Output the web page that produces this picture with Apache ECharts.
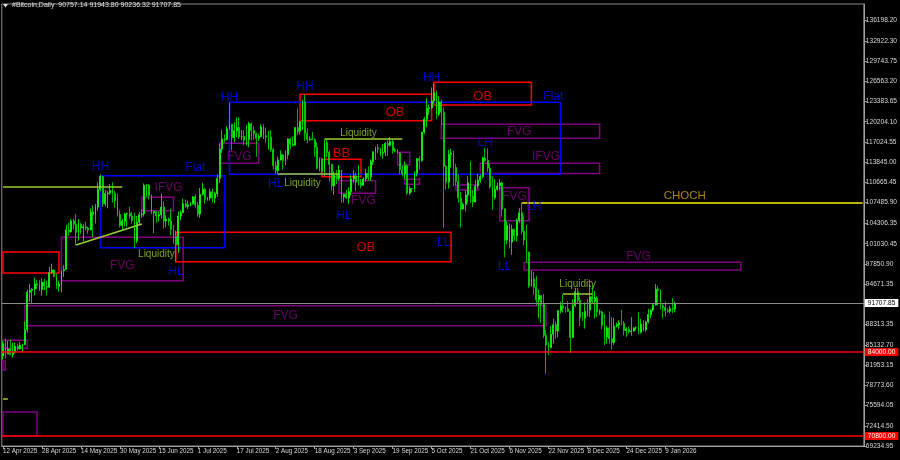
<!DOCTYPE html>
<html><head><meta charset="utf-8">
<script src="https://cdn.jsdelivr.net/npm/echarts@6/dist/echarts.min.js"></script>
<style>html,body{margin:0;padding:0;background:#000;}#c{width:900px;height:460px;}</style>
</head><body><div id="c"></div>
<script>
// ---------- DATA ----------
const symbolTitle = '#Bitcoin,Daily';
const lastBar = { open: 90757.14, high: 91943.80, low: 90236.32, close: 91707.85 };
const firstDate = '2025-04-12';
const slotCount = 354; // daily slots on the time axis (data + empty right margin)

// daily OHLC, 12 Apr 2025 .. 13 Jan 2026
const opens = [
83400,85300,83700,84500,83600,84000,84900,84500,85100,85200,87500,93400,93700,93900,94700,94600,93800,95000,94300,
94200,96500,96900,95900,94300,94700,96800,97000,103200,102900,104600,104100,102800,104100,103500,103700,103500,103200,106000,105600,106800,109600,111600,107300,108900,109000,109400,108900,107800,105600,103900,
104600,105700,105800,105400,104700,101500,104400,105600,105700,110200,110200,108600,105900,106100,105400,105600,106800,104600,104900,104600,103300,102100,100900,105400,105900,107300,106900,107100,107300,108400,
107100,105700,108800,109600,108000,108200,109200,108200,108900,111300,115900,117500,117400,119100,119800,117700,118800,119300,117900,117900,117300,117400,119900,118800,118300,117600,117900,119400,118000,117800,117800,
115800,113300,112500,114200,115000,114100,115000,117500,116700,116500,119300,118700,120200,123300,118400,117400,117500,117400,116200,112900,114300,112400,116900,115400,113500,110100,111800,111300,112600,108400,108800,
108200,109200,111200,111700,110700,110700,110200,111200,112100,111500,113900,115500,116100,115900,115300,115400,116800,116500,117100,115700,115700,115300,112700,112000,113300,109000,109700,109700,112100,114400,
114100,118600,120600,122300,122400,123500,124800,121400,123300,121700,113200,110700,115100,115300,113000,110800,108200,106500,107200,108700,110600,108500,107600,110100,111000,111600,114500,114100,112900,110000,108300,
109600,110100,110600,106500,101600,103900,101300,103300,102300,104700,105900,103000,101600,99700,94400,95500,94200,92200,92900,91500,86600,85100,84700,86800,88300,87300,90500,91300,90900,90800,
90400,86300,91300,93500,92100,89400,89300,90400,90600,92700,92000,92500,90300,90300,88200,86400,87800,86100,85500,88100,88300,88600,88500,87400,87600,87200,87300,87800,87800,87100,88400,
87500,88700,89900,90600,91400,93900,93700,91300,91000,90500,90400,90800,90757.14
];
const closes = [
85300,83700,84500,83600,84000,84900,84500,85100,85200,87500,93400,93700,93900,94700,94600,93800,95000,94300,94200,
96500,96900,95900,94300,94700,96800,97000,103200,102900,104600,104100,102800,104100,103500,103700,103500,103200,106000,105600,106800,109600,111600,107300,108900,109000,109400,108900,107800,105600,103900,104600,
105700,105800,105400,104700,101500,104400,105600,105700,110200,110200,108600,105900,106100,105400,105600,106800,104600,104900,104600,103300,102100,100900,105400,105900,107300,106900,107100,107300,108400,107100,
105700,108800,109600,108000,108200,109200,108200,108900,111300,115900,117500,117400,119100,119800,117700,118800,119300,117900,117900,117300,117400,119900,118800,118300,117600,117900,119400,118000,117800,117800,115800,
113300,112500,114200,115000,114100,115000,117500,116700,116500,119300,118700,120200,123300,118400,117400,117500,117400,116200,112900,114300,112400,116900,115400,113500,110100,111800,111300,112600,108400,108800,108200,
109200,111200,111700,110700,110700,110200,111200,112100,111500,113900,115500,116100,115900,115300,115400,116800,116500,117100,115700,115700,115300,112700,112000,113300,109000,109700,109700,112100,114400,114100,
118600,120600,122300,122400,123500,124800,121400,123300,121700,113200,110700,115100,115300,113000,110800,108200,106500,107200,108700,110600,108500,107600,110100,111000,111600,114500,114100,112900,110000,108300,109600,
110100,110600,106500,101600,103900,101300,103300,102300,104700,105900,103000,101600,99700,94400,95500,94200,92200,92900,91500,86600,85100,84700,86800,88300,87300,90500,91300,90900,90800,90400,
86300,91300,93500,92100,89400,89300,90400,90600,92700,92000,92500,90300,90300,88200,86400,87800,86100,85500,88100,88300,88600,88500,87400,87600,87200,87300,87800,87800,87100,88400,87500,
88700,89900,90600,91400,93900,93700,91300,91000,90500,90400,90800,90757.14,91707.85
];
const lows = [
82800,83000,83700,83600,83100,83800,84300,84400,83900,85100,87100,91900,91700,92900,93900,93600,92900,93700,92900,
94100,96300,95800,93900,93500,93400,95800,96900,102300,102800,103300,100800,101500,102600,101400,103100,102600,103100,102000,104200,106200,109300,106800,106900,106600,108700,107500,106700,105300,103600,103100,
103800,103700,105000,104200,100400,101100,103900,105100,105300,108400,108000,105700,102700,104300,104500,105000,103400,103600,103900,102400,101000,98200,99600,104700,105900,106700,106500,106900,107200,106700,
105300,105100,108600,107300,107800,107800,107500,107400,108400,110600,115300,116900,117300,118900,115700,117000,117800,117500,117300,116500,116500,116200,117300,117400,114700,117200,117800,117500,116900,115800,115500,
112700,112000,112000,114100,112700,113400,114300,115900,116300,116500,118100,118200,118900,117200,116800,117200,117300,114700,112700,112400,112000,111700,114600,110800,109400,108700,110400,110900,107500,107500,108100,
107300,108600,110600,109300,110200,109700,110200,110800,110900,110900,113400,114200,115300,114800,114400,114800,114800,116300,115200,115400,115200,112000,111600,111100,108700,108700,109100,109200,111600,112700,
113900,118300,119300,121300,122200,123100,120600,121100,119700,103500,109600,109700,113000,110100,110200,107500,103600,106400,106100,107500,107400,106800,107500,109700,110600,111300,113900,112300,109700,106300,108000,
109400,109500,105300,98900,100900,100300,99300,101500,101400,104300,102500,100800,98000,94100,94300,93000,91300,89300,88600,86200,80600,83500,84600,85300,86100,86300,90100,90200,90200,90300,
83800,86200,91100,91700,88100,88900,87700,89600,89500,91600,89300,89500,89800,87600,85100,85300,85300,84400,85100,87900,87600,88200,86600,86400,86900,86600,87200,87400,86800,86900,87300,
87200,88500,89300,90400,91300,91300,90700,89300,89600,90200,90100,90100,90236.32
];
const highs = [
85800,86100,85800,86000,85500,85500,85300,85600,85300,88800,93800,94700,94000,95700,95300,95300,95600,95500,95200,
97400,97900,97000,96300,95200,96900,97700,104000,104300,104900,105000,105700,104900,104300,104100,104500,103700,106600,107100,107300,110700,111900,111700,109500,109300,110400,110700,109300,108900,106300,104900,
105900,105900,106800,106000,105900,105400,106000,106400,110500,110400,110400,108800,106200,106200,106100,108900,107700,105500,105200,106500,104000,103100,106100,106300,108100,108000,107800,107600,108500,108800,
107600,109800,110600,109800,108400,109700,109700,109200,111900,116800,118900,118200,119500,123200,119900,120100,120900,120900,118900,118900,119700,120200,120100,119500,118500,118300,119800,119800,119300,118800,118900,
116100,114000,114700,115700,115100,115700,117600,117700,117900,119300,122300,120300,123600,124500,119200,117900,118600,117600,117000,114600,114500,117400,117500,115700,113600,112400,112600,113400,112600,108900,109500,
109900,111800,112600,112200,113400,111200,111500,112800,113200,114300,115500,116300,116700,116100,116700,117000,117300,117800,117500,116100,115900,115400,113300,114000,113500,110100,109800,112400,114500,114800,
118600,121000,123900,122900,125600,126200,125100,124200,123700,122500,113400,115800,116000,115600,113600,111900,109200,107500,109400,111700,114000,109400,111100,112000,111900,114700,116100,116000,113600,111600,111200,
110600,111200,110800,106600,104600,104200,104000,103400,105000,106600,107400,105300,104000,99800,96800,96600,96000,93800,92900,93100,87500,85600,88100,89200,88800,90600,91900,93100,91200,92000,
90400,92300,94100,94100,92700,90300,91800,92300,94600,94500,93600,92800,90700,90500,90000,88100,90400,89500,89400,88600,89000,90600,88900,87900,88000,89500,87900,88000,90300,89200,89000,
88900,90800,90700,91600,94700,94400,93800,91500,91900,90900,91300,92500,91943.80
];

// right price-axis tick labels
const priceTicks = [136198.20,132922.30,129743.75,126563.20,123383.65,120204.10,117024.55,113845.00,110665.45,107485.90,104306.35,101030.45,97850.90,94671.35,88313.35,85132.70,81953.15,78773.60,75594.05,72414.50,69234.95];
const priceMin = 69234.95, priceMax = 138713;
const dateLabelEvery = 16;

// horizontal levels
const supportLevels = [84000, 70800];
const lastPrice = 91707.85;

// zones: [start date, end date, low, high]
const obZones = [
  ['2025-04-12','2025-05-05',96426,99728],
  ['2025-06-22','2025-10-13',98203,102824],
  ['2025-08-12','2025-10-05',120368,124518],
  ['2025-08-21','2025-09-06',111565,114300],
  ['2025-10-06','2025-11-15',122836,126404]
];
const fvgZones = [
  ['2025-05-06','2025-06-25',95216,102038],
  ['2025-06-08','2025-06-21',106220,108326],
  ['2025-07-10','2025-07-26',113671,116815],
  ['2025-08-28','2025-09-12',108955,110936],
  ['2025-09-21','2025-09-26',113404,115400],
  ['2025-09-24','2025-09-30',110370,111156],
  ['2025-10-09','2025-12-13',117601,119802],
  ['2025-10-25','2025-12-13',112068,113671],
  ['2025-10-15','2025-10-24',109474,110260],
  ['2025-11-02','2025-11-14',104648,109836],
  ['2025-11-12','2026-02-09',96898,98108],
  ['2025-04-21','2025-11-21',88142,91286],
  ['2025-04-12','2025-04-22',84589,85847],
  ['2025-04-12','2025-04-13',81178,82593],
  ['2025-04-12','2025-04-26',70803,74576]
];
const flatZones = [
  ['2025-05-22','2025-07-12',100404,111722],
  ['2025-07-14','2025-11-27',111942,123260]
];
// liquidity lines: [start, end, price]
const liquidityLines = [
  ['2025-04-12','2025-05-31',110000],
  ['2025-08-22','2025-09-23',117491],
  ['2025-08-03','2025-08-28',111990],
  ['2025-11-28','2025-12-10',93125],
  ['2025-04-12','2025-04-14',76729]
];
const trendLines = [['2025-05-12',100828,'2025-06-08',104129]];
const chochLines = [['2025-11-11','2026-03-31',107480]];

// text labels: [date, price, text]
const structureLabels = [
  ['2025-05-22',113090,'HH'],['2025-06-30',112933,'Flat'],['2025-06-22',96627,'HL'],
  ['2025-07-14',123936,'HH'],['2025-08-02',110417,'HL'],['2025-08-14',125666,'HH'],
  ['2025-08-30',105387,'HL'],['2025-10-05',127081,'HH'],['2025-11-24',124094,'Flat'],
  ['2025-10-27',116864,'LH'],['2025-11-16',106802,'LH'],['2025-10-10',101143,'LL'],
  ['2025-11-04',97370,'LL']
];
const obLabels = [
  ['2025-09-20',121736,'OB'],['2025-08-29',115290,'BB'],['2025-09-08',100514,'OB'],['2025-10-26',124251,'OB']
];
const fvgLabels = [
  ['2025-06-19',109788,'IFVG'],['2025-05-31',97527,'FVG'],['2025-07-18',114662,'FVG'],
  ['2025-09-07',107745,'FVG'],['2025-11-10',118592,'FVG'],['2025-11-21',114662,'IFVG'],
  ['2025-11-08',108374,'FVG'],['2025-12-29',98941,'FVG'],['2025-08-06',89667,'FVG']
];
const liquidityLabels = [
  ['2025-06-14',99413,'Liquidity'],['2025-08-13',110574,'Liquidity'],
  ['2025-09-05',118434,'Liquidity'],['2025-12-04',94697,'Liquidity']
];
const chochLabels = [['2026-01-17',108532,'CHOCH']];

// ---------- BUILD ----------
const MON = ['Jan','Feb','Mar','Apr','May','Jun','Jul','Aug','Sep','Oct','Nov','Dec'];
const dates = [];
(function(){
  const p = firstDate.split('-').map(Number);
  const t0 = Date.UTC(p[0], p[1]-1, p[2]);
  for (let i = 0; i < slotCount; i++) dates.push(new Date(t0 + i*86400000).toISOString().slice(0,10));
})();
function fmtDate(s, idx){ if (idx >= closes.length) return ''; const p = s.split('-'); return (+p[2]) + ' ' + MON[+p[1]-1] + ' ' + p[0]; }
const candles = closes.map((c,i) => [opens[i], c, lows[i], highs[i]]);

const C_BLUE = '#0000ff', C_RED = '#ff0000', C_PURPLE = '#800080', C_LIQ = '#9acd32', C_CHOCH = '#b8b400';
const FONT = "'Liberation Sans', Arial, sans-serif";
const AXFONT = "'Liberation Sans', Arial, sans-serif";

function zoneItems(list, color) {
  return list.map(z => [
    { xAxis: z[0], yAxis: z[3], itemStyle: { color: 'rgba(0,0,0,0)', borderColor: color, borderWidth: 1.5 } },
    { xAxis: z[1], yAxis: z[2] }
  ]);
}
function segItems(list, color, width) {
  return list.map(l => [
    { xAxis: l[0], yAxis: l[2], lineStyle: { color: color, width: width, type: 'solid' } },
    { xAxis: l[1], yAxis: l[2] }
  ]);
}
const markLines = []
  .concat(segItems(liquidityLines, C_LIQ, 1.5))
  .concat(trendLines.map(t => [
    { xAxis: t[0], yAxis: t[1], lineStyle: { color: C_LIQ, width: 1.5, type: 'solid' } },
    { xAxis: t[2], yAxis: t[3] }
  ]))
  .concat(segItems(chochLines, C_CHOCH, 2))
  .concat(supportLevels.map(v => ({
    yAxis: v, lineStyle: { color: C_RED, width: 1.5, type: 'solid' },
    label: { show: true, position: 'end', distance: 1, formatter: v.toFixed(2), backgroundColor: C_RED,
             color: '#ffffff', fontSize: 6.6, fontFamily: AXFONT, padding: [1, 3, 0, 3] }
  })))
  .concat([{
    yAxis: lastPrice, lineStyle: { color: '#8c8c8c', width: 1, type: 'solid' },
    label: { show: true, position: 'end', distance: 1, formatter: lastPrice.toFixed(2), backgroundColor: '#ffffff',
             color: '#000000', fontSize: 6.6, fontFamily: AXFONT, padding: [1, 3, 0, 3] }
  }]);

function textSeries(list, color, size) {
  return {
    type: 'scatter', data: list.map(t => ({ value: [t[0], t[1]], name: t[2] })),
    symbolSize: 1, itemStyle: { color: 'rgba(0,0,0,0)' }, silent: true, z: 5,
    label: { show: true, position: 'inside', formatter: '{b}', color: color, fontSize: size, fontFamily: FONT }
  };
}

const option = {
  backgroundColor: '#000000',
  animation: false,
  grid: { left: 1, right: 32, top: 4, bottom: 14, show: true, borderColor: '#8c8c8c', borderWidth: 1, backgroundColor: 'transparent' },
  xAxis: {
    type: 'category', data: dates, boundaryGap: true,
    axisLine: { show: true, lineStyle: { color: '#a0a0a0', width: 1 } },
    axisTick: { show: true, interval: (i) => (i % dateLabelEvery === 0 && i < closes.length), alignWithLabel: true, length: 3, lineStyle: { color: '#a0a0a0' } },
    axisLabel: { interval: dateLabelEvery - 1, formatter: fmtDate, align: 'left', margin: 2, color: '#d8d8d8', fontSize: 6.3, fontFamily: AXFONT, showMaxLabel: false, hideOverlap: false },
    splitLine: { show: false }
  },
  yAxis: {
    type: 'value', position: 'right', min: priceMin, max: priceMax, scale: true,
    axisLine: { show: true, lineStyle: { color: '#a0a0a0', width: 1 } },
    axisTick: { show: true, customValues: priceTicks, length: 3, lineStyle: { color: '#a0a0a0' } },
    axisLabel: { customValues: priceTicks, formatter: (v) => v.toFixed(2), margin: 2, color: '#d8d8d8', fontSize: 6.6, fontFamily: AXFONT },
    splitLine: { show: false }
  },
  graphic: [
    { type: 'polygon', left: 3, top: 4, shape: { points: [[0,0],[5,0],[2.5,3.5]] }, style: { fill: '#e0e0e0' } },
    { type: 'text', left: 12, top: 2, style: { text: symbolTitle + '  ' + lastBar.open.toFixed(2) + ' ' + lastBar.high.toFixed(2) + ' ' + lastBar.low.toFixed(2) + ' ' + lastBar.close.toFixed(2),
      fill: '#e0e0e0', fontSize: 7, fontFamily: AXFONT } }
  ],
  series: [
    {
      type: 'candlestick', data: candles, barWidth: '55%',
      itemStyle: { color: '#b4ffb4', color0: '#00b400', borderColor: '#00ff00', borderColor0: '#00e000', borderWidth: 0.8 },
      markArea: { silent: true, label: { show: false },
        data: [].concat(zoneItems(fvgZones, C_PURPLE), zoneItems(obZones, C_RED), zoneItems(flatZones, C_BLUE)) },
      markLine: { silent: true, symbol: ['none','none'], label: { show: false }, lineStyle: { type: 'solid' }, data: markLines }
    },
    textSeries(structureLabels, C_BLUE, 12),
    textSeries(obLabels, C_RED, 13),
    textSeries(fvgLabels, C_PURPLE, 12),
    textSeries(liquidityLabels, C_LIQ, 10),
    textSeries(chochLabels, '#d4a20a', 11.5)
  ]
};
const chart = echarts.init(document.getElementById('c'));
chart.setOption(option);
</script>
</body></html>
